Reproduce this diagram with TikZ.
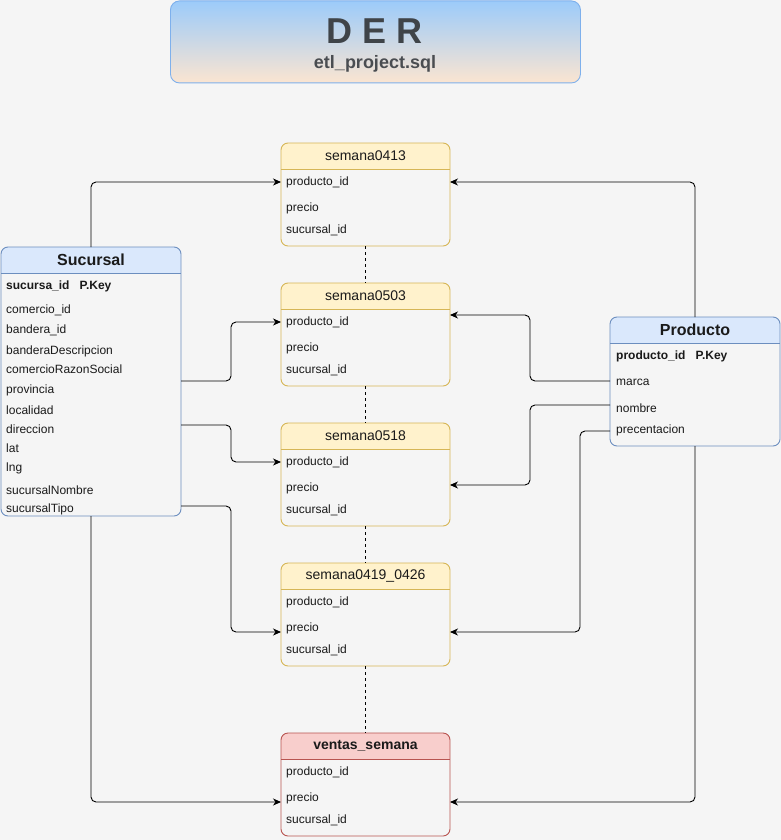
\documentclass[tikz,border=0pt]{standalone}
\usepackage{fontspec}
\setmainfont{Liberation Sans}
\usetikzlibrary{arrows.meta}
\definecolor{bg}{HTML}{F5F5F5}
\definecolor{yfill}{HTML}{FFF2CC}
\definecolor{ydraw}{HTML}{D6B656}
\definecolor{bfill}{HTML}{DAE8FC}
\definecolor{bdraw}{HTML}{6C8EBF}
\definecolor{rfill}{HTML}{F8CECC}
\definecolor{rdraw}{HTML}{B85450}
\definecolor{txt}{HTML}{1A1A1A}
\definecolor{titletop}{HTML}{9CCBFA}
\definecolor{titlebot}{HTML}{FBE5D1}
\definecolor{titledraw}{HTML}{7EB0EC}
\definecolor{titletxt}{HTML}{3F4449}
\definecolor{subtxt}{HTML}{4A4D51}
\tikzset{
  tbl/.style={anchor=north west, inner sep=0, outer sep=0, fill=bg},
  fld/.style={anchor=west, inner sep=0, text=txt, font=\fontsize{12}{14}\selectfont},
  fldb/.style={fld, font=\bfseries\fontsize{12}{14}\selectfont},
  ttl/.style={text=txt, inner sep=0, font=\fontsize{14}{16}\selectfont},
  ttlb/.style={text=txt, inner sep=0, font=\bfseries\fontsize{14}{16}\selectfont},
  ttlB/.style={text=txt, inner sep=0, font=\bfseries\fontsize{16}{18}\selectfont},
  conn/.style={draw=black, line width=0.9pt, rounded corners=5pt, -{Stealth[length=8pt,width=7pt,inset=2.5pt]}},
  dash line/.style={draw=black, line width=0.9pt, dash pattern=on 3pt off 3pt},
}
% #1 name, #2 x, #3 y, #4 w, #5 h, #6 header fill, #7 border, #8 title, #9 title style
\newcommand\ertab[9]{%
  \node[tbl, minimum width=#4pt, minimum height=#5pt] (#1) at (#2,#3) {};
  \begin{scope}
    \clip[rounded corners=7pt] (#2,#3) rectangle ({#2+#4},{#3+#5});
    \fill[#6] (#2,#3) rectangle ({#2+#4},{#3+26});
  \end{scope}
  \draw[#7, line width=0.9pt, rounded corners=7pt] (#1.north west) rectangle (#1.south east);
  \draw[#7, line width=0.9pt] (#2,{#3+26}) -- ({#2+#4},{#3+26});
  \node[#9] (#1t) at ({#2+#4/2},{#3+13}) {#8};
}
\begin{document}
\begin{tikzpicture}[x=1pt,y=-1pt]
\useasboundingbox (0,0) rectangle (781,840);
\fill[bg] (0,0) rectangle (781,840);

% title
\node[anchor=north west, minimum width=410pt, minimum height=82pt, inner sep=0,
  rounded corners=9pt, top color=titletop, bottom color=titlebot, draw=titledraw, line width=0.9pt]
  (title) at (170,0.5) {};
\node[text=titletxt, font=\bfseries\fontsize{36}{40}\selectfont] (der) at (375,31) {D E R};
\node[text=subtxt, font=\bfseries\fontsize{18}{20}\selectfont] (sub) at (375,64) {etl\_project.sql};

% week tables
\ertab{s1}{281}{143}{169}{103}{yfill}{ydraw}{semana0413}{ttl}
\ertab{s2}{281}{283}{169}{103}{yfill}{ydraw}{semana0503}{ttl}
\ertab{s3}{281}{423}{169}{103}{yfill}{ydraw}{semana0518}{ttl}
\ertab{s4}{281}{563}{169}{103}{yfill}{ydraw}{semana0419\_0426}{ttl}
\ertab{v}{281}{733}{169}{103}{rfill}{rdraw}{ventas\_semana}{ttlb}

\foreach \n/\y in {s1/143, s2/283, s3/423, s4/563, v/733} {
  \node[fld] (\n a) at (286,\y+39.5) {producto\_id};
  \node[fld] (\n b) at (286,\y+65.5) {precio};
  \node[fld] (\n c) at (286,\y+87.5) {sucursal\_id};
}

% Sucursal
\ertab{suc}{1}{247}{180}{269}{bfill}{bdraw}{Sucursal}{ttlB}
\node[fldb] (suc0) at (6,286) {sucursa\_id\hspace{10pt}P.Key};
\node[fld] (suc1) at (6,310) {comercio\_id};
\node[fld] (suc2) at (6,330) {bandera\_id};
\node[fld] (suc3) at (6,351) {banderaDescripcion};
\node[fld] (suc4) at (6,369) {comercioRazonSocial};
\node[fld] (suc5) at (6,390) {provincia};
\node[fld] (suc6) at (6,410) {localidad};
\node[fld] (suc7) at (6,429) {direccion};
\node[fld] (suc8) at (6,448) {lat};
\node[fld] (suc9) at (6,468) {lng};
\node[fld] (suc10) at (6,490) {sucursalNombre};
\node[fld] (suc11) at (6,509) {sucursalTipo};

% Producto
\ertab{prod}{610}{317}{170}{129}{bfill}{bdraw}{Producto}{ttlB}
\node[fldb] (prod0) at (616,356) {producto\_id\hspace{10pt}P.Key};
\node[fld] (prod1) at (616,382) {marca};
\node[fld] (prod2) at (616,408) {nombre};
\node[fld] (prod3) at (616,430) {precentacion};

% dashed links between tables
\draw[dash line] (s1.south) -- (s2.north);
\draw[dash line] (s2.south) -- (s3.north);
\draw[dash line] (s3.south) -- (s4.north);
\draw[dash line] (s4.south) -- (v.north);

% exit points
\coordinate (sucE1) at ([yshift=-134pt]suc.north east);
\coordinate (sucE2) at ([yshift=-178pt]suc.north east);
\coordinate (sucE3) at ([yshift=-259pt]suc.north east);
\coordinate (prodW1) at ([yshift=-64pt]prod.north west);
\coordinate (prodW2) at ([yshift=-88pt]prod.north west);
\coordinate (prodW3) at ([yshift=-114pt]prod.north west);

% Sucursal connectors
\draw[conn] (suc.north) |- ([yshift=-39pt]s1.north west);
\draw[conn] (sucE1) -- ++(50,0) |- ([yshift=-39pt]s2.north west);
\draw[conn] (sucE2) -- ++(50,0) |- ([yshift=-39pt]s3.north west);
\draw[conn] (sucE3) -- ++(50,0) |- ([yshift=-69pt]s4.north west);
\draw[conn] (suc.south) |- ([yshift=-69pt]v.north west);

% Producto connectors
\draw[conn] (prod.north) |- ([yshift=-39pt]s1.north east);
\draw[conn] (prodW1) -- ++(-80,0) |- ([yshift=-32pt]s2.north east);
\draw[conn] (prodW2) -- ++(-80,0) |- ([yshift=-62pt]s3.north east);
\draw[conn] (prodW3) -- ++(-30,0) |- ([yshift=-69pt]s4.north east);
\draw[conn] (prod.south) |- ([yshift=-69pt]v.north east);
\end{tikzpicture}
\end{document}
